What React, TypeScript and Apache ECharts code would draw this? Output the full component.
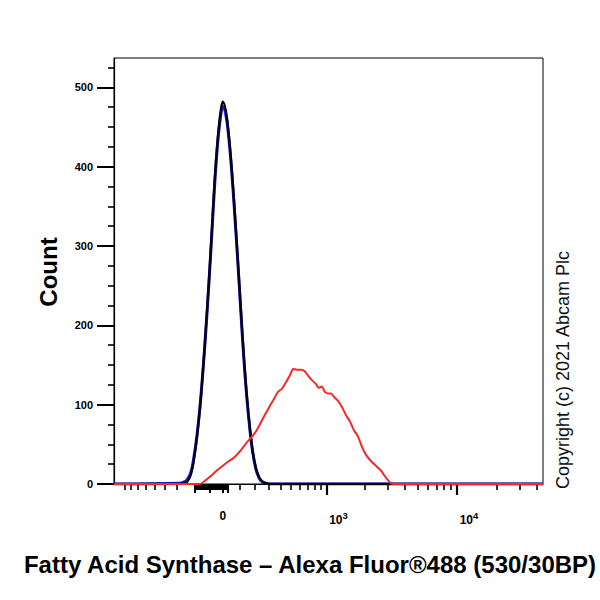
import React, { useEffect, useRef } from "react";
import * as echarts from "echarts";

// Biexponential (asinh) display transform, in decades
const SCALE_W = 337.2;
const toDisplay = (v: number) => Math.asinh(v / SCALE_W) / Math.LN10;

// axis range in fluorescence units
const X_MIN = -1100;
const X_MAX = 44800;
const Y_MAX = 537;

// tick values (fluorescence units)
const xLabelValues = [0, 1000, 10000];
const xLabelTexts = ["0", "3", "4"]; // "0", 10^3, 10^4
const xMajorTicks = [1000, 10000];
const xMinorTicks = [
  -900, -800, -700, -600, -500, -400, -300,
  100, 200, 300, 400, 500, 600, 700, 800, 900,
  2000, 3000, 4000, 5000, 6000, 7000, 8000, 9000,
  20000, 30000, 40000,
];
const xClusterTicks = [
  -170, -160, -150, -140, -130, -120, -110, -100, -90, -80, -70, -60, -50,
  -40, -30, -20, -10, 0, 10, 20, 30,
];
const xClusterSpikes = [-170, -80, 0, 30];
const yLabelValues = [0, 100, 200, 300, 400, 500];
const yMinorTicks = [25, 50, 75, 125, 150, 175, 225, 250, 275, 325, 350, 375, 425, 450, 475, 525];

// histogram bins on the display scale (decades), counts
const ctrlBins = [
  -0.326, -0.288, -0.265, -0.242, -0.22, -0.197, -0.174, -0.152, -0.129, -0.106,
  -0.083, -0.061, -0.038, -0.015, 0, 0.023, 0.045, 0.068, 0.091, 0.114,
  0.136, 0.159, 0.182, 0.205, 0.227, 0.25, 0.273, 0.295, 0.326, 0.356,
];
const unstainedCounts = [
  0, 1, 4, 12, 30, 58, 95, 140, 195, 255,
  320, 385, 437, 472, 482, 470, 440, 395, 340, 280,
  220, 160, 110, 70, 40, 20, 9, 4, 1, 0,
];
const isotypeCounts = [
  1, 3, 7, 15, 33, 60, 96, 140, 193, 252,
  317, 380, 432, 466, 476, 465, 436, 392, 337, 278,
  218, 158, 108, 68, 39, 19, 8, 3, 1, 0,
];
const fasnBins = [
  -0.174, -0.136, -0.098, -0.053, 0, 0.038, 0.083, 0.129, 0.174, 0.212,
  0.25, 0.28, 0.311, 0.341, 0.379, 0.417, 0.447, 0.477, 0.508, 0.53,
  0.561, 0.591, 0.621, 0.644, 0.674, 0.705, 0.727, 0.75, 0.773, 0.795,
  0.818, 0.841, 0.871, 0.902, 0.932, 0.962, 0.992, 1.023, 1.053, 1.083,
  1.121, 1.159, 1.197, 1.235, 1.265, 1.295, 1.341, 1.386,
];
const fasnCounts = [
  0, 4, 9, 16, 23, 28, 33, 41, 51, 58,
  66, 75, 85, 94, 105, 116, 120, 128, 137, 145,
  144, 144, 142, 137, 131, 126, 121, 123, 116, 114,
  114, 110, 105, 97, 87, 79, 68, 60, 47, 37,
  29, 23, 17, 8, 2, 0, 0, 0,
];

const FONT = "'Liberation Sans', Arial, Helvetica, sans-serif";

function withEdges(bins: number[], counts: number[]) {
  const pts = bins.map((b, i) => [b, counts[i]]);
  return [[toDisplay(X_MIN), 0], ...pts, [toDisplay(X_MAX), 0]];
}

export default function App() {
  const ref = useRef<HTMLDivElement>(null);
  useEffect(() => {
    if (!ref.current) return;
    const chart = echarts.init(ref.current, null, { renderer: "svg" });
    const xmin = toDisplay(X_MIN);
    const xmax = toDisplay(X_MAX);
    const baseX = {
      type: "value",
      min: xmin,
      max: xmax,
      position: "bottom",
      splitLine: { show: false },
      axisLine: { show: false, onZero: false },
      axisLabel: { show: false },
    };
    const baseY = {
      type: "value",
      min: 0,
      max: Y_MAX,
      position: "left",
      splitLine: { show: false },
      axisLine: { show: false, onZero: false },
      axisLabel: { show: false },
    };
    chart.setOption({
      animation: false,
      backgroundColor: "#fff",
      grid: {
        left: 114,
        right: 57,
        top: 58,
        bottom: 116,
        show: true,
        borderColor: "#000",
        borderWidth: 1,
        backgroundColor: "transparent",
      },
      xAxis: [
        {
          ...baseX,
          axisLine: { show: true, onZero: false, lineStyle: { color: "#000", width: 1.2 } },
          axisTick: {
            show: true,
            customValues: xMajorTicks.map(toDisplay),
            length: 11,
            lineStyle: { color: "#000", width: 2.2 },
          },
          axisLabel: {
            show: true,
            customValues: xLabelValues.map(toDisplay),
            margin: 26,
            formatter: (val: number) => {
              let best = 0;
              let bd = Infinity;
              xLabelValues.forEach((v, i) => {
                const d = Math.abs(toDisplay(v) - val);
                if (d < bd) {
                  bd = d;
                  best = i;
                }
              });
              if (xLabelValues[best] === 0) return "{z|0}";
              return "{b|10}{s|" + xLabelTexts[best] + "}";
            },
            rich: {
              z: { fontSize: 12, fontWeight: "bold", fontFamily: FONT, color: "#000" },
              b: {
                fontSize: 12,
                fontWeight: "bold",
                fontFamily: FONT,
                color: "#000",
                padding: [0, 0, 0, 24],
              },
              s: {
                fontSize: 9.5,
                fontWeight: "bold",
                fontFamily: FONT,
                color: "#000",
                padding: [0, 0, 10, 0],
              },
            },
          },
        },
        {
          ...baseX,
          axisTick: {
            show: true,
            customValues: xMinorTicks.map(toDisplay),
            length: 6,
            lineStyle: { color: "#000", width: 1.6 },
          },
        },
        {
          ...baseX,
          axisTick: {
            show: true,
            customValues: xClusterTicks.map(toDisplay),
            length: 6,
            lineStyle: { color: "#000", width: 2 },
          },
        },
        {
          ...baseX,
          axisTick: {
            show: true,
            customValues: xClusterSpikes.map(toDisplay),
            length: 9,
            lineStyle: { color: "#000", width: 2 },
          },
        },
      ],
      yAxis: [
        {
          ...baseY,
          axisLine: { show: true, onZero: false, lineStyle: { color: "#000", width: 1.2 } },
          axisTick: {
            show: true,
            customValues: yLabelValues,
            length: 17,
            lineStyle: { color: "#000", width: 2 },
          },
          axisLabel: {
            show: true,
            customValues: yLabelValues,
            margin: 21,
            fontSize: 11,
            fontWeight: "bold",
            fontFamily: FONT,
            color: "#000",
          },
        },
        {
          ...baseY,
          axisTick: {
            show: true,
            customValues: yMinorTicks,
            length: 6,
            lineStyle: { color: "#000", width: 1.6 },
          },
        },
      ],
      series: [
        {
          name: "Isotype control",
          type: "line",
          data: withEdges(ctrlBins, isotypeCounts),
          smooth: 0.4,
          showSymbol: false,
          symbol: "none",
          lineStyle: { color: "#1c1cd6", width: 3 },
          z: 2,
        },
        {
          name: "Unstained",
          type: "line",
          data: withEdges(ctrlBins, unstainedCounts),
          smooth: 0.4,
          showSymbol: false,
          symbol: "none",
          lineStyle: { color: "#050510", width: 2.4 },
          z: 3,
        },
        {
          name: "Fatty Acid Synthase",
          type: "line",
          data: withEdges(fasnBins, fasnCounts),
          smooth: 0.15,
          showSymbol: false,
          symbol: "none",
          lineStyle: { color: "#ef2b2b", width: 2 },
          z: 4,
        },
      ],
      graphic: [
        {
          type: "text",
          x: 48,
          y: 272,
          rotation: Math.PI / 2,
          style: {
            text: "Count",
            fontSize: 24,
            fontWeight: "bold",
            fontFamily: FONT,
            fill: "#000",
            align: "center",
            verticalAlign: "middle",
          },
        },
        {
          type: "text",
          x: 310,
          y: 564,
          style: {
            text: "Fatty Acid Synthase \u2013 Alexa Fluor\u00AE488 (530/30BP)",
            fontSize: 24,
            fontWeight: "bold",
            fontFamily: FONT,
            fill: "#000",
            align: "center",
            verticalAlign: "middle",
          },
        },
        {
          type: "text",
          x: 563,
          y: 370,
          rotation: Math.PI / 2,
          style: {
            text: "Copyright (c) 2021 Abcam Plc",
            fontSize: 18,
            fontFamily: FONT,
            fill: "#111",
            align: "center",
            verticalAlign: "middle",
          },
        },
      ],
    });
    return () => chart.dispose();
  }, []);
  return (
    <div
      ref={ref}
      style={{ position: "absolute", left: 0, top: 0, width: 600, height: 600, background: "#fff" }}
    />
  );
}
